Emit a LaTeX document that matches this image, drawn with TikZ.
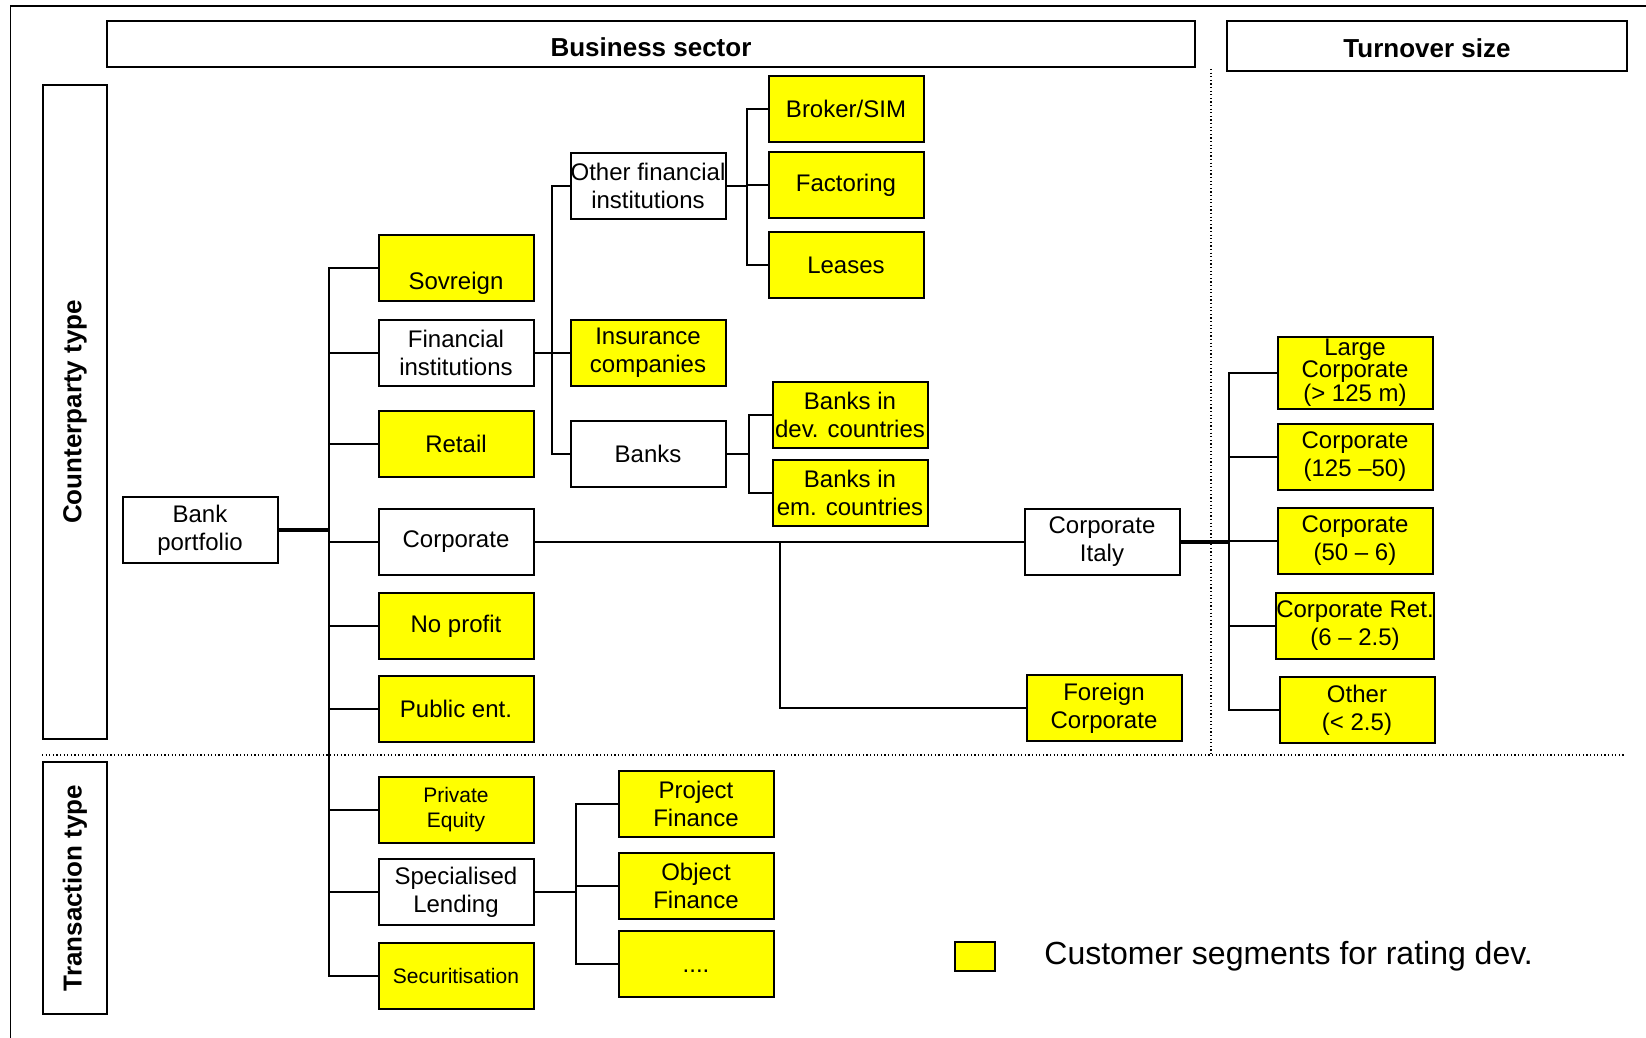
\documentclass[tikz,border=0pt]{standalone}
\usepackage{fontspec}
\setmainfont{Liberation Sans}
\usepackage{xcolor}
\usepackage{tikz}
\usetikzlibrary{positioning,calc}
\definecolor{segyellow}{RGB}{255,255,0}
\tikzstyle{every node}=[font=\fontsize{12}{14}\selectfont]
\tikzstyle{segment}=[rectangle, draw=black, line width=1pt, fill=segyellow,
  minimum width=77.5pt, minimum height=33pt, inner xsep=0pt, inner ysep=1pt,
  align=center]
\tikzstyle{branch}=[segment, fill=white]
\tikzstyle{header}=[rectangle, draw=black, line width=0.9pt,
  font=\fontsize{13}{15}\selectfont\bfseries]
\tikzstyle{link}=[draw, line width=1pt]
\tikzstyle{midlink}=[draw, line width=1.25pt]
\tikzstyle{thicklink}=[draw, line width=1.6pt]
\tikzstyle{separator}=[draw, line width=0.7pt, dash pattern=on 0.6pt off 1.2pt]
\tikzstyle{smalltext}=[font=\fontsize{10.5}{12.5}\selectfont]
% parent -> bus -> every child
\newcommand{\fanout}[4][link]{
\foreach \kid in {#4}
  \draw[#1] (#2.east) -| (#3 |- \kid) -- (\kid.west);
}

\begin{document}
\begin{tikzpicture}[x=0.5pt, y=-0.5pt]
  \useasboundingbox (0,0) rectangle (1646,1038);
  \draw[line width=0.8pt] (10.5,1038) -- (10.5,6) -- (1646,6);

  % headers
  \node (business) [header, minimum width=544pt, minimum height=23pt,
        text height=13pt, text depth=0pt] at (651,44) {Business sector};
  \node (turnover) [header, minimum width=200pt, minimum height=25pt,
        text height=12pt, text depth=0pt] at (1427,46) {Turnover size};
  \node (counter) [header, rotate=90, minimum width=327pt, minimum height=32pt]
        at (75,412) {Counterparty type};
  \node (transaction) [header, rotate=90, minimum width=126pt, minimum height=32pt]
        at (75,888) {Transaction type};

  % separators
  \draw[separator] (1211,69) -- (1211,755);
  \draw[separator] (42,755) -- (1625,755);

  % root
  \node (bank) [branch] at (200,530) {Bank\\portfolio};

  % counterparty and transaction types
  \node (sov)    [segment] at (456,268) {\strut\\Sovreign};
  \node (fin)    [branch]  at (456,353) {Financial\\institutions};
  \node (retail) [segment] at (456,444) {Retail};
  \node (corp)   [branch]  at (456,542) {Corporate};
  \node (nopro)  [segment] at (456,626) {No profit};
  \node (public) [segment] at (456,709) {Public ent.};
  \node (pe)     [segment, smalltext] at (456,810) {Private\\Equity};
  \node (spl)    [branch]  at (456,892) {Specialised\\Lending};
  \node (secur)  [segment, smalltext] at (456,976) {Securitisation};

  % financial institutions
  \node (ofi)   [branch]  at (648,186) {Other financial\\institutions};
  \node (ins)   [segment] at (648,353) {Insurance\\companies};
  \node (banks) [branch]  at (648,454) {Banks};

  \node (broker) [segment] at (846,109) {Broker/SIM};
  \node (fact)   [segment] at (846,185) {Factoring};
  \node (leases) [segment] at (846,265) {Leases};

  \node (bdev) [segment] at (850,415) {Banks in\\dev. countries};
  \node (bem)  [segment] at (850,493) {Banks in\\em. countries};

  % corporate
  \node (corpit)  [branch]  at (1102,542) {Corporate\\Italy};
  \node (foreign) [segment] at (1104,708) {Foreign\\Corporate};

  % turnover size
  \node (large) [segment, font=\fontsize{12}{11}\selectfont]
        at (1355,373) {Large\\Corporate\\(> 125 m)};
  \node (c125)  [segment] at (1355,457) {Corporate\\(125 –50)};
  \node (c50)   [segment] at (1355,541) {Corporate\\(50 – 6)};
  \node (cret)  [segment] at (1355,625.5) {Corporate Ret.\\(6 – 2.5)};
  \node (other) [segment] at (1357,710) {Other\\(< 2.5)};

  % specialised lending
  \node (proj) [segment] at (696,803.5) {Project\\Finance};
  \node (obj)  [segment] at (696,885.5) {Object\\Finance};
  \node (dots) [segment] at (696,964) {\strut\raisebox{-1.5pt}{....}};

  % buses
  \coordinate (trunk)   at (328.5,0);
  \coordinate (finbus)  at (552,0);
  \coordinate (ofibus)  at (747,0);
  \coordinate (bankbus) at (749,0);
  \coordinate (corpbus) at (780,0);
  \coordinate (sizebus) at (1229,0);
  \coordinate (splbus)  at (576,0);

  \fanout{bank}{trunk}{sov,fin,retail,corp,nopro,public,pe,spl,secur}
  \draw[thicklink] (bank.east) -- (trunk |- bank);
  \fanout{fin}{finbus}{ofi,ins,banks}
  \fanout{ofi}{ofibus}{broker,fact,leases}
  \fanout{banks}{bankbus}{bdev,bem}
  \fanout[midlink]{corp}{corpbus}{corpit,foreign}
  \fanout{corpit}{sizebus}{large,c125,c50,cret,other}
  \draw[thicklink] (corpit.east) -- (sizebus |- corpit);
  \fanout{spl}{splbus}{proj,obj,dots}

  % legend
  \node (legbox) [segment, minimum width=20pt, minimum height=14.5pt] at (975,956) {};
  \node (legtext) [right=24pt of legbox, inner sep=0pt,
        font=\fontsize{16}{18}\selectfont] {Customer segments for rating dev.};
\end{tikzpicture}
\end{document}
